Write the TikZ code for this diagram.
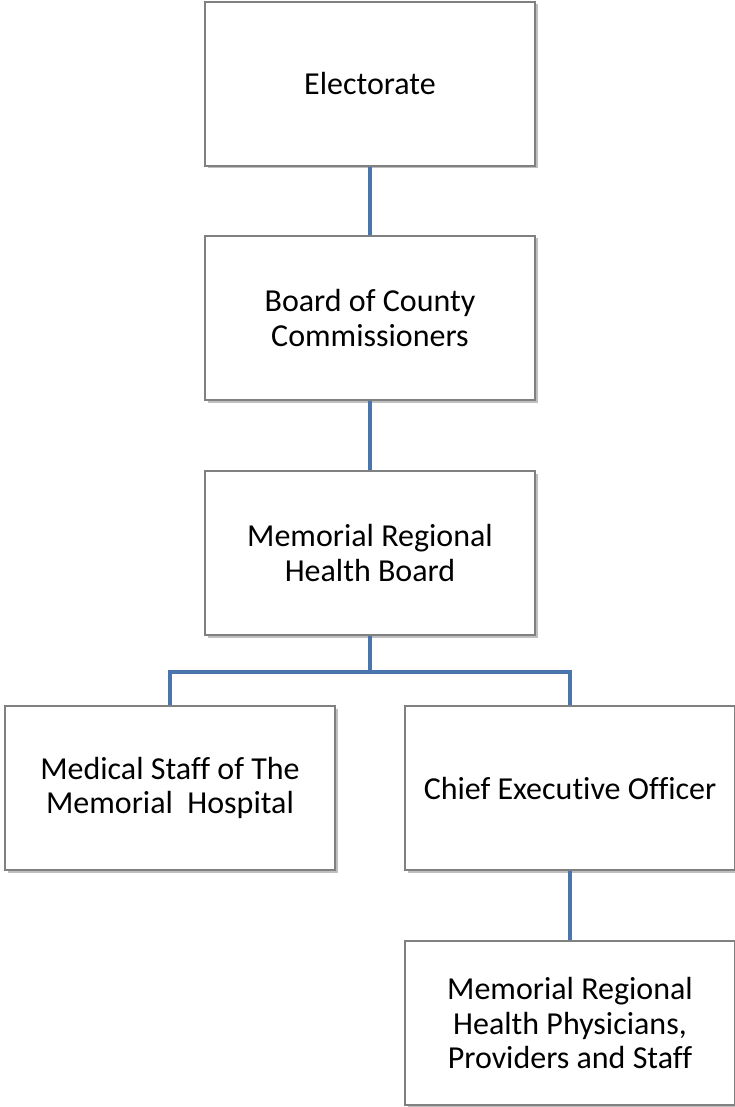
\documentclass[tikz,border=0pt]{standalone}
\usepackage{fontspec}
\setmainfont[Ligatures={NoCommon}]{Carlito}
\usetikzlibrary{shadows}
\definecolor{linkblue}{HTML}{4A76AD}
\definecolor{boxgray}{HTML}{808080}
\begin{document}
\begin{tikzpicture}[x=1pt,y=-1pt,
  orgbox/.style={draw=boxgray, line width=1.3pt, fill=white, minimum width=330pt, minimum height=164pt,
    align=center, inner sep=0pt, font=\fontsize{32}{34.5}\selectfont,
    drop shadow={shadow xshift=2.5pt, shadow yshift=-2.5pt, fill=black, opacity=0.25}},
  link/.style={draw=linkblue, line width=4pt}]
\useasboundingbox (0,0) rectangle (735,1107);
\node[orgbox] (elec) at (370,84) {Electorate};
\node[orgbox] (board) at (370,318) {Board of County\\Commissioners};
\node[orgbox] (mrhb) at (370,553) {Memorial Regional\\Health Board};
\node[orgbox] (med) at (170,788) {Medical Staff of The\\Memorial\ \ Hospital};
\node[orgbox] (ceo) at (570,788) {Chief Executive Officer};
\node[orgbox] (phys) at (570,1023) {Memorial Regional\\Health Physicians,\\Providers and Staff};
\coordinate (split) at (370,672);
\draw[link] (elec.south) -- (board.north);
\draw[link] (board.south) -- (mrhb.north);
\draw[link] (mrhb.south) -- (split);
\draw[link] (med.north) |- (split) -| (ceo.north);
\draw[link] (ceo.south) -- (phys.north);
\end{tikzpicture}
\end{document}
